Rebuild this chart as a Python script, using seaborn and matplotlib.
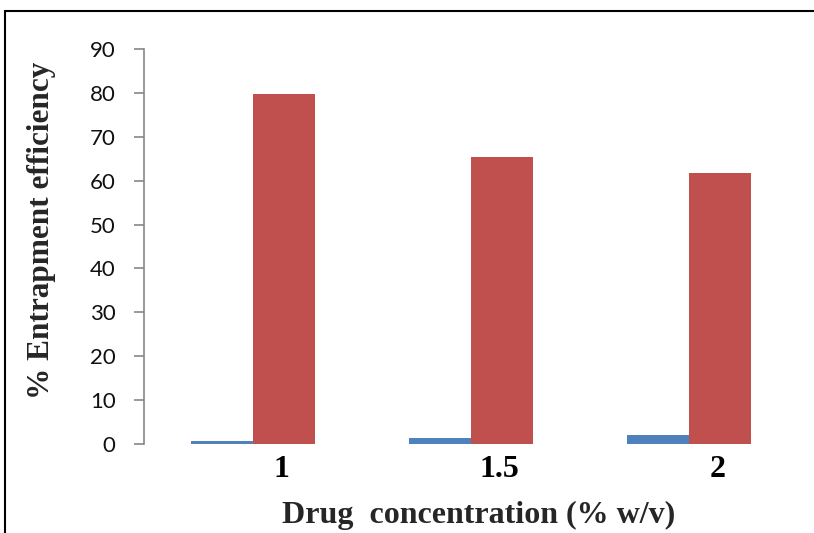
import matplotlib
matplotlib.use("Agg")
import matplotlib.pyplot as plt
import seaborn as sns
import pandas as pd
from matplotlib.patches import Rectangle

# Data
concentrations = ["1", "1.5", "2"]
series_names = ["Series 1", "Series 2"]
series_1 = [0.75, 1.4, 2.0]
series_2 = [79.7, 65.4, 61.7]
y_ticks = [0, 10, 20, 30, 40, 50, 60, 70, 80, 90]

df = pd.DataFrame({
    "conc": concentrations * 2,
    "series": [series_names[0]] * 3 + [series_names[1]] * 3,
    "value": series_1 + series_2,
})

sns.set_theme(style="white")
plt.rcParams["font.family"] = ["Lato", "DejaVu Sans"]

fig = plt.figure(figsize=(8.14, 5.33), dpi=100)
ax = fig.add_axes([144 / 814, 89 / 533, 654 / 814, 395 / 533])

sns.barplot(data=df, x="conc", y="value", hue="series",
            palette=["#4F81BD", "#C0504D"], width=0.57, dodge=True,
            saturation=1, linewidth=0, ax=ax, legend=False)

ax.set_ylim(0, 90)
ax.set_xlim(-0.5, 2.5)
ax.set_yticks(y_ticks)
ax.set_yticklabels([str(t) for t in y_ticks], fontsize=16, color="#111111")
ax.set_xticks([i + 0.13 for i in range(len(concentrations))])
ax.set_xticklabels(concentrations, fontsize=23, fontweight="bold",
                   family="Liberation Serif", color="black")

for s in ["top", "right", "bottom"]:
    ax.spines[s].set_visible(False)
ax.spines["left"].set_color("#868686")
ax.spines["left"].set_linewidth(1.2)
ax.tick_params(axis="y", which="major", direction="out", length=7.5,
               width=1.2, color="#868686", left=True, pad=13)
ax.tick_params(axis="x", length=0, pad=8)

ax.set_xlabel("Drug  concentration (% w/v)", fontsize=23, fontweight="bold",
              family="Liberation Serif")
ax.set_ylabel("% Entrapment efficiency", fontsize=22.5, fontweight="bold",
              family="Liberation Serif")
ax.xaxis.set_label_coords(0.511, -0.145)
ax.yaxis.set_label_coords(-0.135, 0.54)
ax.grid(False)

# Outer frame around the figure
fig.patches.append(Rectangle((5 / 814, -0.1), 1.2, (533 - 11) / 533 + 0.1,
                             transform=fig.transFigure, fill=False,
                             edgecolor="black", linewidth=1.5, zorder=10))

fig.savefig("out.png", dpi=100)
